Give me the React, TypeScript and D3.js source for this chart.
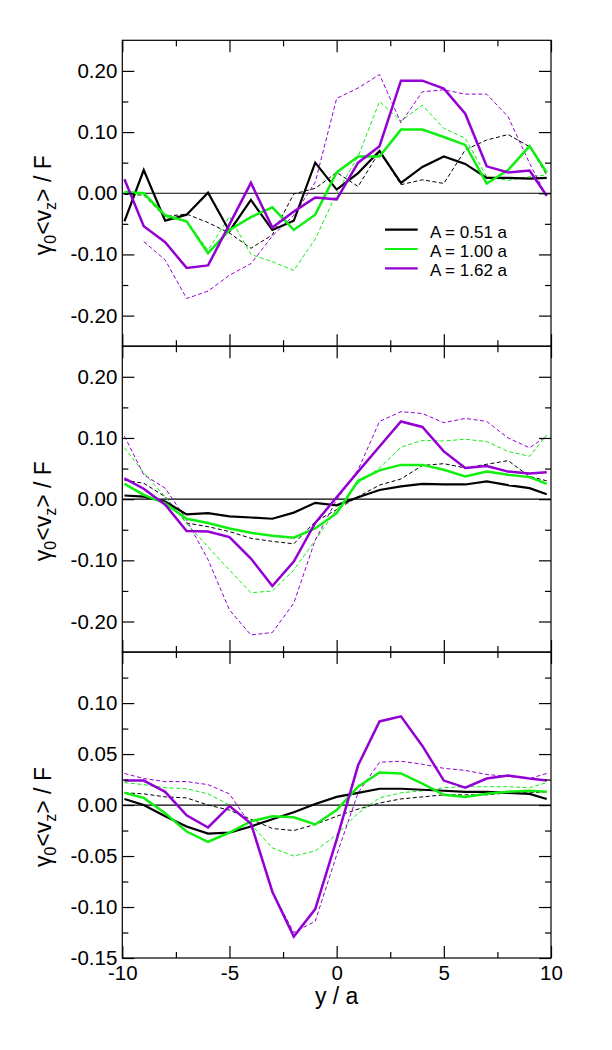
import { useEffect, useRef } from "react";
import * as d3 from "d3";

// sample positions along y / a
const xs = [-9.9, -9, -8, -7, -6, -5, -4, -3, -2, -1, 0, 1, 2, 3, 4, 5, 6, 7, 8, 9, 9.8];

const amplitudes = ["A = 0.51 a", "A = 1.00 a", "A = 1.62 a"];
const colors = ["#000000", "#11ee11", "#9400d3"];

// top panel
const p1Solid051 = [-0.046, 0.038, -0.045, -0.035, 0.001, -0.062, -0.011, -0.060, -0.045, 0.050, 0.006, 0.033, 0.069, 0.017, 0.043, 0.060, 0.048, 0.025, 0.025, 0.024, 0.025];
const p1Dash051 = [-0.002, -0.003, -0.038, -0.034, -0.048, -0.065, -0.090, -0.068, -0.001, 0.008, 0.034, 0.011, 0.068, 0.014, 0.022, 0.016, 0.071, 0.087, 0.096, 0.076, 0.030];
const p1Solid100 = [0.002, 0.0, -0.036, -0.046, -0.098, -0.060, -0.039, -0.023, -0.060, -0.035, 0.034, 0.060, 0.060, 0.104, 0.104, 0.092, 0.079, 0.016, 0.038, 0.077, 0.034];
const p1Dash100 = [0.001, -0.003, -0.040, -0.045, -0.093, -0.038, -0.100, -0.112, -0.126, -0.075, 0.0, 0.060, 0.150, 0.118, 0.144, 0.106, 0.090, 0.027, 0.021, 0.027, 0.030];
const p1Solid162 = [0.023, -0.054, -0.080, -0.122, -0.118, -0.051, 0.017, -0.056, -0.030, -0.007, -0.010, 0.050, 0.077, 0.184, 0.184, 0.171, 0.130, 0.044, 0.034, 0.037, -0.004];
const p1Dash162 = [null, -0.079, -0.109, -0.172, -0.160, -0.134, -0.115, -0.070, -0.036, 0.018, 0.155, 0.172, 0.194, 0.115, 0.166, 0.169, 0.162, 0.162, 0.125, 0.049, -0.005];

// middle panel
const p2Solid051 = [0.006, 0.004, -0.004, -0.025, -0.023, -0.028, -0.030, -0.032, -0.022, -0.006, -0.010, 0.003, 0.015, 0.021, 0.025, 0.024, 0.024, 0.029, 0.023, 0.018, 0.008];
const p2Dash051 = [0.031, 0.026, 0.004, -0.039, -0.045, -0.053, -0.064, -0.069, -0.073, -0.037, -0.017, 0.004, 0.023, 0.033, 0.055, 0.058, 0.051, 0.057, 0.063, 0.037, 0.030];
const p2Solid100 = [0.025, 0.007, -0.007, -0.032, -0.039, -0.048, -0.055, -0.060, -0.063, -0.048, -0.023, 0.030, 0.047, 0.056, 0.056, 0.048, 0.037, 0.045, 0.040, 0.036, 0.025];
const p2Dash100 = [0.084, 0.043, 0.004, -0.040, -0.078, -0.116, -0.153, -0.150, -0.116, -0.067, -0.017, 0.026, 0.051, 0.085, 0.096, 0.095, 0.098, 0.094, 0.078, 0.070, 0.105];
const p2Solid162 = [0.034, 0.017, -0.009, -0.052, -0.053, -0.062, -0.097, -0.142, -0.102, -0.039, 0.003, 0.045, 0.086, 0.127, 0.118, 0.078, 0.051, 0.054, 0.045, 0.042, 0.044];
const p2Dash162 = [0.103, 0.040, 0.018, -0.034, -0.099, -0.181, -0.222, -0.218, -0.170, -0.067, -0.001, 0.048, 0.127, 0.143, 0.140, 0.125, 0.132, 0.127, 0.100, 0.084, 0.103];

// bottom panel
const p3Solid051 = [0.006, 0.0, -0.011, -0.021, -0.028, -0.027, -0.021, -0.014, -0.007, 0.001, 0.008, 0.012, 0.016, 0.016, 0.015, 0.014, 0.013, 0.013, 0.012, 0.011, 0.006];
const p3Dash051 = [0.012, 0.011, 0.008, 0.007, 0.0, -0.005, -0.014, -0.023, -0.025, -0.019, -0.011, -0.004, 0.002, 0.006, 0.008, 0.010, 0.010, 0.010, 0.012, 0.012, 0.013];
const p3Solid100 = [0.012, 0.007, -0.008, -0.026, -0.036, -0.027, -0.016, -0.011, -0.012, -0.019, -0.005, 0.018, 0.032, 0.031, 0.021, 0.010, 0.008, 0.011, 0.013, 0.014, 0.013];
const p3Dash100 = [0.022, 0.020, 0.017, 0.016, 0.011, 0.0, -0.019, -0.042, -0.050, -0.045, -0.029, -0.008, 0.007, 0.012, 0.014, 0.017, 0.018, 0.018, 0.018, 0.017, 0.022];
const p3Solid162 = [0.024, 0.024, 0.013, -0.010, -0.022, -0.001, -0.018, -0.085, -0.129, -0.102, -0.034, 0.039, 0.082, 0.087, 0.058, 0.024, 0.017, 0.026, 0.029, 0.026, 0.024];
const p3Dash162 = [0.031, 0.026, 0.023, 0.023, 0.020, 0.011, -0.020, -0.085, -0.125, -0.114, -0.049, 0.012, 0.042, 0.043, 0.040, 0.036, 0.034, 0.030, 0.028, 0.026, 0.031];

const xMajor = [-10, -5, 0, 5, 10];
const xMinor = [-7.5, -2.5, 2.5, 7.5];
const yMajorWide = [-0.2, -0.1, 0, 0.1, 0.2];
const yMinorWide = [-0.15, -0.05, 0.05, 0.15];
const yMajorNarrow = [-0.15, -0.1, -0.05, 0, 0.05, 0.1];
const yMinorNarrow = [-0.125, -0.075, -0.025, 0.025, 0.075, 0.125];

const panels = [
  { domain: [-0.25, 0.25], major: yMajorWide, minor: yMinorWide, solid: [p1Solid051, p1Solid100, p1Solid162], dashed: [p1Dash051, p1Dash100, p1Dash162] },
  { domain: [-0.25, 0.25], major: yMajorWide, minor: yMinorWide, solid: [p2Solid051, p2Solid100, p2Solid162], dashed: [p2Dash051, p2Dash100, p2Dash162] },
  { domain: [-0.15, 0.15], major: yMajorNarrow, minor: yMinorNarrow, solid: [p3Solid051, p3Solid100, p3Solid162], dashed: [p3Dash051, p3Dash100, p3Dash162] },
];

const width = 612;
const height = 1050;
const left = 122.3;
const right = 551;
const top = 40.3;
const panelH = 305.9;
const font = "'Liberation Sans', Arial, Helvetica, sans-serif";

export default function App() {
  const ref = useRef<SVGSVGElement>(null);

  useEffect(() => {
    const svg = d3.select(ref.current);
    svg.selectAll("*").remove();

    const x = d3.scaleLinear().domain([-10, 10]).range([left, right]);
    const fmt = (d: d3.NumberValue) => (+d).toFixed(2);

    panels.forEach((p, pi) => {
      const y0 = top + pi * panelH;
      const y1 = y0 + panelH;
      const y = d3.scaleLinear().domain(p.domain).range([y1, y0]);
      const last = pi === panels.length - 1;

      const line = d3
        .line<number | null>()
        .defined((d) => d != null)
        .x((_, i) => x(xs[i]))
        .y((d) => y(d as number));

      // zero line
      svg
        .append("line")
        .attr("x1", left)
        .attr("x2", right)
        .attr("y1", y(0))
        .attr("y2", y(0))
        .attr("stroke", "#000")
        .attr("stroke-width", 1.2);

      p.dashed.forEach((s, i) => {
        svg
          .append("path")
          .attr("d", line(s))
          .attr("fill", "none")
          .attr("stroke", colors[i])
          .attr("stroke-width", 1)
          .attr("stroke-dasharray", "4,2.5");
      });

      p.solid.forEach((s, i) => {
        svg
          .append("path")
          .attr("d", line(s))
          .attr("fill", "none")
          .attr("stroke", colors[i])
          .attr("stroke-width", i === 0 ? 2.2 : 2.5)
          .attr("stroke-linejoin", "miter");
      });

      const axes: Array<[d3.Axis<d3.NumberValue>, string]> = [
        [d3.axisLeft(y).tickValues(p.major).tickSize(-12).tickPadding(5).tickFormat(fmt), `translate(${left},0)`],
        [d3.axisLeft(y).tickValues(p.minor).tickSize(-6).tickFormat(() => ""), `translate(${left},0)`],
        [d3.axisRight(y).tickValues(p.major).tickSize(-12).tickFormat(() => ""), `translate(${right},0)`],
        [d3.axisRight(y).tickValues(p.minor).tickSize(-6).tickFormat(() => ""), `translate(${right},0)`],
        [d3.axisTop(x).tickValues(xMajor).tickSize(-12).tickFormat(() => ""), `translate(0,${y0})`],
        [d3.axisTop(x).tickValues(xMinor).tickSize(-6).tickFormat(() => ""), `translate(0,${y0})`],
        [
          d3.axisBottom(x).tickValues(xMajor).tickSize(-12).tickPadding(7).tickFormat(last ? (d) => String(+d) : () => ""),
          `translate(0,${y1})`,
        ],
        [d3.axisBottom(x).tickValues(xMinor).tickSize(-6).tickFormat(() => ""), `translate(0,${y1})`],
      ];

      axes.forEach(([axis, transform]) => {
        const g = svg.append("g").attr("transform", transform).call(axis);
        g.select(".domain").remove();
        g.selectAll("line").attr("stroke-width", 1.2);
        g.attr("font-size", 20.5).attr("font-family", font).attr("fill", "#000");
        g.selectAll("text").attr("fill", "#000");
      });

      // frame
      svg
        .append("rect")
        .attr("x", left)
        .attr("y", y0)
        .attr("width", right - left)
        .attr("height", panelH)
        .attr("fill", "none")
        .attr("stroke", "#000")
        .attr("stroke-width", 1.2);

      // y axis title
      const title = svg
        .append("text")
        .attr("transform", `translate(51,${(y0 + y1) / 2 + 12}) rotate(-90)`)
        .attr("text-anchor", "middle")
        .attr("font-family", font)
        .attr("font-size", 23);
      title.append("tspan").text("γ");
      title.append("tspan").attr("font-size", 16).attr("dy", 5).text("0");
      title.append("tspan").attr("dy", -5).text("<v");
      title.append("tspan").attr("font-size", 16).attr("dy", 5).text("z");
      title.append("tspan").attr("dy", -5).text("> / F");
    });

    // legend in the top panel
    amplitudes.forEach((label, i) => {
      const ly = 229.7 + i * 19.3;
      svg
        .append("line")
        .attr("x1", 385)
        .attr("x2", 417.7)
        .attr("y1", ly)
        .attr("y2", ly)
        .attr("stroke", colors[i])
        .attr("stroke-width", 2.2);
      svg
        .append("text")
        .attr("x", 430)
        .attr("y", ly + 8)
        .attr("font-family", font)
        .attr("font-size", 17)
        .text(label);
    });

    // x axis title
    svg
      .append("text")
      .attr("x", x(0))
      .attr("y", 1004)
      .attr("text-anchor", "middle")
      .attr("font-family", font)
      .attr("font-size", 23)
      .text("y / a");
  }, []);

  return (
    <svg
      ref={ref}
      width={width}
      height={height}
      style={{ position: "absolute", left: 0, top: 0, background: "#fff" }}
    />
  );
}
